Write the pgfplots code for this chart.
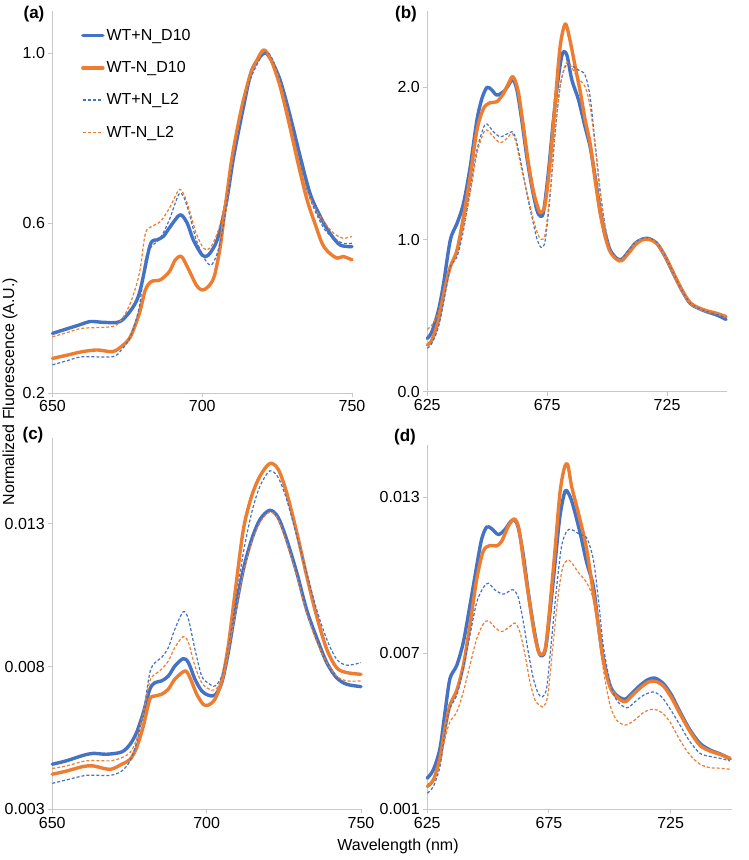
\documentclass[border=0pt]{standalone}
\usepackage{fontspec}
\setmainfont{Liberation Sans}
\usepackage{pgfplots}
\pgfplotsset{compat=1.18}
\definecolor{xblue}{HTML}{4472C4}
\definecolor{xorange}{HTML}{ED7D31}
\definecolor{axgray}{HTML}{C8C8C8}
\newcommand{\lblfont}{\fontsize{16bp}{19bp}\selectfont}
\pgfplotsset{
  myaxis/.style={
    scale only axis,
    axis lines*=left,
    axis line style={draw=axgray, line width=1.4bp},
    tick align=outside,
    major tick length=4bp,
    every tick/.style={draw=axgray, line width=1bp},
    tick label style={font=\lblfont},
    scaled ticks=false,
    clip=false,
  },
  bs/.style={color=xblue, line width=3.4bp, smooth, line join=round, line cap=round,
    legend image code/.code={\draw[xblue, line width=3.4bp] (0bp,0bp) -- (20bp,0bp);}},
  os/.style={color=xorange, line width=3.4bp, smooth, line join=round, line cap=round,
    legend image code/.code={\draw[xorange, line width=3.4bp] (0bp,0bp) -- (20bp,0bp);}},
  bd/.style={color=xblue, line width=1.2bp, dash pattern=on 3bp off 2bp, smooth,
    legend image code/.code={\draw[xblue, line width=1.3bp, dash pattern=on 3bp off 2bp] (0bp,0bp) -- (20bp,0bp);}},
  od/.style={color=xorange, line width=1.2bp, dash pattern=on 3bp off 2bp, smooth,
    legend image code/.code={\draw[xorange, line width=1.3bp, dash pattern=on 3bp off 2bp] (0bp,0bp) -- (20bp,0bp);}},
}
\begin{document}
\begin{tikzpicture}
\useasboundingbox (0,0) rectangle (749bp,-860bp);

% ---------------- (a)
\begin{axis}[myaxis,
  at={(52.5bp,-393.3bp)}, anchor=south west,
  width=299.5bp, height=382.5bp,
  xmin=650, xmax=750, ymin=0.2, ymax=1.1,
  xtick={650,700,750}, xticklabels={650,700,750},
  ytick={0.2,0.6,1.0}, yticklabels={0.2,0.6,1.0},
  legend style={at={(0.095,0.957)}, anchor=north west, draw=none, fill=none,
    font=\lblfont, inner sep=0pt, row sep=15.5bp, cells={anchor=west}},
]
\addplot[bs] coordinates {
(650,0.341)(659,0.361)(662.6,0.369)(667,0.367)(672.6,0.369)(677,0.404)(679.3,0.443)
(682.6,0.549)(684.9,0.561)(687,0.569)(689.3,0.592)(692.6,0.620)(695,0.600)(697,0.561)
(700,0.525)(702,0.525)(705,0.561)(708,0.647)(710.5,0.757)(713.8,0.875)(716.6,0.961)
(720.5,1.000)(722.7,0.988)(726,0.937)(729.4,0.851)(732.7,0.757)(736,0.670)(739.4,0.616)
(742.7,0.576)(746,0.549)(750,0.545)};
\addlegendentry{WT+N\textunderscore D10}
\addplot[os] coordinates {
(650,0.282)(655,0.290)(660,0.298)(665,0.302)(670,0.298)(673,0.310)(676,0.333)(679,0.388)
(681,0.443)(683,0.463)(686,0.467)(689,0.486)(691,0.514)(693,0.522)(695,0.498)(698,0.455)
(700,0.443)(702,0.451)(704,0.475)(706,0.545)(708,0.655)(710,0.757)(713,0.867)(716,0.949)
(718,0.980)(720.5,1.008)(723,0.984)(726,0.922)(729,0.835)(732,0.741)(735,0.655)(738,0.592)
(740,0.553)(742,0.533)(745,0.518)(747,0.522)(750,0.514)};
\addlegendentry{WT-N\textunderscore D10}
\addplot[bd] coordinates {
(650,0.267)(655,0.277)(660,0.286)(670,0.286)(673,0.302)(676,0.333)(679,0.404)(681,0.514)
(683,0.545)(686,0.565)(689,0.608)(692.5,0.671)(695,0.639)(698,0.561)(701,0.514)(703,0.502)
(705,0.529)(707,0.592)(710,0.733)(713,0.843)(716,0.937)(720.5,1.000)(723,0.992)(726,0.937)
(729,0.859)(732,0.765)(735,0.678)(738,0.624)(741,0.584)(744,0.565)(747,0.553)(750,0.553)};
\addlegendentry{WT+N\textunderscore L2}
\addplot[od] coordinates {
(650,0.333)(655,0.343)(660,0.353)(670,0.357)(673,0.373)(676,0.412)(679,0.482)(681,0.576)
(683,0.592)(686,0.604)(689,0.635)(692.5,0.680)(695,0.647)(698,0.576)(700.5,0.541)(702.5,0.541)
(705,0.576)(707,0.631)(710,0.749)(713,0.859)(716,0.945)(720.5,1.004)(723,0.988)(726,0.933)
(729,0.851)(732,0.757)(735,0.678)(738,0.631)(741,0.600)(744,0.576)(747,0.565)(750,0.569)};
\addlegendentry{WT-N\textunderscore L2}
\end{axis}

% ---------------- (b)
\begin{axis}[myaxis,
  at={(427.3bp,-391.7bp)}, anchor=south west,
  width=299.7bp, height=380.5bp,
  xmin=625, xmax=750, ymin=0, ymax=2.5,
  xtick={625,675,725}, xticklabels={625,675,725},
  ytick={0,1,2}, yticklabels={0.0,1.0,2.0},
]
\addplot[bs] coordinates {
(625,0.350)(626.9,0.394)(629.7,0.537)(631.8,0.712)(634.6,0.997)(637.4,1.106)(640.1,1.237)
(642.9,1.478)(645.7,1.785)(647.8,1.927)(649.9,2.000)(651.9,1.982)(654.0,1.949)(656.8,1.971)
(658.9,2.015)(660.6,2.052)(662.4,1.982)(664.4,1.785)(666.5,1.544)(668.6,1.347)(670.7,1.194)
(672.1,1.154)(673.5,1.183)(675.6,1.456)(677.6,1.785)(679.7,2.070)(681.4,2.223)(683.2,2.212)
(685.3,2.048)(688.1,1.916)(690.8,1.740)(692.9,1.610)(695.0,1.413)(697.1,1.194)(699.2,1.040)
(701.25,0.931)(704.0,0.876)(706.1,0.869)(708.9,0.920)(711.7,0.975)(714.4,1.001)(717.2,1.007)
(720.7,0.975)(724.2,0.887)(727.6,0.777)(731.1,0.668)(734.6,0.580)(738.1,0.548)(741.5,0.526)
(745.7,0.504)(749.6,0.475)};
\addplot[os] coordinates {
(625,0.307)(626.9,0.339)(629.7,0.471)(632.5,0.690)(634.6,0.821)(637.4,0.931)(640.1,1.150)
(642.9,1.413)(645.7,1.719)(648.5,1.862)(651.3,1.899)(654.0,1.905)(656.8,1.960)(658.9,2.026)
(660.7,2.070)(662.8,1.982)(665.1,1.741)(667.2,1.500)(669.3,1.314)(671.4,1.198)(672.5,1.176)
(674.2,1.237)(676.3,1.522)(678.3,1.894)(680.4,2.267)(682.5,2.416)(684.2,2.332)(686.7,2.135)
(688.8,1.970)(690.8,1.790)(692.9,1.632)(695.0,1.390)(697.1,1.172)(699.2,1.018)(701.25,0.920)
(704.0,0.869)(706.1,0.861)(708.9,0.909)(711.7,0.964)(714.4,0.996)(717.2,1.001)(720.7,0.975)
(724.2,0.891)(727.6,0.782)(731.1,0.672)(734.6,0.585)(738.1,0.552)(741.5,0.532)(745.7,0.515)
(749.6,0.493)};
\addplot[bd] coordinates {
(625,0.285)(626.9,0.318)(629.7,0.427)(632.5,0.646)(634.6,0.821)(637.4,0.887)(640.1,1.062)
(642.9,1.325)(645.7,1.588)(648.5,1.737)(649.9,1.759)(652.6,1.708)(655.4,1.675)(658.2,1.693)
(660.3,1.708)(661.9,1.664)(664.4,1.478)(666.5,1.303)(668.6,1.150)(670.7,1.007)(672.5,0.948)
(674.2,0.996)(676.3,1.303)(678.3,1.697)(680.4,2.004)(682.5,2.135)(684.6,2.146)(688.1,2.113)
(690.8,2.081)(692.9,1.938)(695.0,1.632)(697.1,1.325)(699.2,1.084)(701.25,0.942)(704.0,0.883)
(706.1,0.876)(708.9,0.925)(711.7,0.980)(714.4,1.006)(717.2,1.012)(720.7,0.980)(724.2,0.892)
(727.6,0.780)(731.1,0.670)(734.6,0.583)(738.1,0.550)(741.5,0.528)(745.7,0.508)(749.6,0.485)};
\addplot[od] coordinates {
(625,0.410)(626.9,0.438)(629.7,0.526)(632.5,0.712)(634.6,0.821)(637.4,0.931)(640.1,1.084)
(642.9,1.303)(645.7,1.566)(648.5,1.702)(649.9,1.719)(652.6,1.675)(655.4,1.636)(658.2,1.664)
(660.3,1.697)(661.9,1.643)(664.4,1.456)(666.5,1.314)(668.6,1.172)(670.7,1.051)(672.5,1.001)
(674.2,1.040)(676.3,1.325)(678.3,1.719)(680.4,2.004)(682.5,2.146)(684.2,2.157)(687.4,2.070)
(690.8,2.004)(692.9,1.873)(695.0,1.610)(697.1,1.303)(699.2,1.062)(701.25,0.931)(704.0,0.876)
(706.1,0.869)(708.9,0.922)(711.7,0.978)(714.4,1.004)(717.2,1.010)(720.7,0.978)(724.2,0.890)
(727.6,0.780)(731.1,0.672)(734.6,0.585)(738.1,0.555)(741.5,0.535)(745.7,0.518)(749.6,0.500)};
\end{axis}

% ---------------- (c)
\begin{axis}[myaxis,
  at={(52.3bp,-809.3bp)}, anchor=south west,
  width=308.7bp, height=371bp,
  xmin=650, xmax=750, ymin=0.003, ymax=0.016,
  xtick={650,700,750}, xticklabels={650,700,750},
  ytick={0.003,0.008,0.013}, yticklabels={0.003,0.008,0.013},
]
\addplot[bs] coordinates {
(650,0.00458)(654.6,0.00470)(660,0.00489)(663.3,0.00496)(667.6,0.00493)(672.5,0.00501)
(675.2,0.00528)(677.3,0.00569)(679.5,0.00639)(681.6,0.00721)(683.3,0.00744)(685.4,0.00750)
(687.6,0.00767)(689.7,0.00802)(692.4,0.00828)(694.1,0.00814)(696.2,0.00756)(698.4,0.00715)
(700.5,0.00700)(702.7,0.00700)(704.9,0.00744)(707.0,0.00849)(709.2,0.00989)(711.9,0.01141)
(714.6,0.01246)(717.3,0.01316)(720.5,0.01348)(723.2,0.01322)(725.9,0.01246)(729.2,0.01129)
(732.4,0.00999)(735.6,0.00902)(738.9,0.00814)(742.1,0.00761)(745.4,0.00738)(750,0.00730)};
\addplot[os] coordinates {
(650,0.00423)(654.6,0.00434)(660,0.00450)(663.3,0.00452)(668.7,0.00440)(672.5,0.00458)
(675.2,0.00475)(677.3,0.00516)(679.5,0.00592)(681.6,0.00686)(683.3,0.00697)(685.4,0.00703)
(687.6,0.00721)(689.7,0.00756)(693.0,0.00785)(694.6,0.00761)(696.8,0.00703)(698.9,0.00668)
(700.5,0.00665)(702.7,0.00686)(704.9,0.00750)(707.0,0.00872)(709.2,0.01059)(711.9,0.01281)
(714.6,0.01398)(717.3,0.01468)(720.5,0.01512)(723.2,0.01491)(725.9,0.01410)(729.2,0.01270)
(732.4,0.01118)(735.6,0.00978)(738.9,0.00861)(742.1,0.00796)(745.4,0.00779)(750,0.00773)};
\addplot[bd] coordinates {
(650,0.00391)(654.6,0.00403)(661.1,0.00419)(668.7,0.00419)(672.5,0.00434)(675.2,0.00470)
(677.3,0.00534)(679.5,0.00639)(681.6,0.00779)(683.3,0.00814)(685.4,0.00832)(687.6,0.00867)
(689.7,0.00931)(692.4,0.00992)(694.1,0.00966)(696.2,0.00861)(698.4,0.00767)(700.5,0.00742)
(702.7,0.00732)(704.9,0.00767)(707.0,0.00861)(709.2,0.01013)(711.9,0.01200)(714.6,0.01340)
(717.3,0.01433)(720.5,0.01486)(723.2,0.01462)(725.9,0.01386)(729.2,0.01258)(732.4,0.01129)
(735.6,0.01001)(738.9,0.00896)(742.1,0.00826)(745.4,0.00805)(750,0.00814)};
\addplot[od] coordinates {
(650,0.00443)(654.6,0.00452)(661.1,0.00470)(668.7,0.00470)(672.5,0.00481)(675.2,0.00499)
(677.3,0.00545)(679.5,0.00639)(681.6,0.00750)(683.3,0.00773)(685.4,0.00791)(687.6,0.00820)
(689.7,0.00867)(692.4,0.00905)(694.1,0.00884)(696.2,0.00802)(698.4,0.00744)(700.5,0.00723)
(702.7,0.00718)(704.9,0.00756)(707.0,0.00849)(709.2,0.00978)(711.9,0.01129)(714.6,0.01235)
(717.3,0.01305)(720.5,0.01342)(723.2,0.01316)(725.9,0.01235)(729.2,0.01118)(732.4,0.00989)
(735.6,0.00890)(738.9,0.00814)(742.1,0.00767)(745.4,0.00750)(750,0.00750)};
\end{axis}

% ---------------- (d)
\begin{axis}[myaxis,
  at={(427.3bp,-809.3bp)}, anchor=south west,
  width=304.2bp, height=364.3bp,
  xmin=625, xmax=750, ymin=0.001, ymax=0.015,
  xtick={625,675,725}, xticklabels={625,675,725},
  ytick={0.001,0.007,0.013}, yticklabels={0.001,0.007,0.013},
]
\addplot[bs] coordinates {
(625,0.00220)(627.5,0.00252)(630.2,0.00334)(632.3,0.00475)(634.3,0.00602)(637.1,0.00653)
(639.8,0.00742)(642.5,0.00882)(645.3,0.01035)(647.3,0.01137)(649.4,0.01185)(651.5,0.01178)
(654.2,0.01156)(656.9,0.01175)(659.0,0.01203)(660.8,0.01213)(662.4,0.01182)(664.5,0.01073)
(666.5,0.00933)(668.6,0.00806)(670.6,0.00710)(672.0,0.00689)(673.6,0.00717)(675.4,0.00857)
(677.5,0.01048)(679.5,0.01226)(681.6,0.01322)(683.3,0.01309)(685.0,0.01264)(687.8,0.01162)
(690.5,0.01048)(693.2,0.00959)(695.3,0.00806)(697.3,0.00678)(700.1,0.00576)(702.8,0.00538)
(706.2,0.00523)(709.0,0.00545)(712.4,0.00576)(715.8,0.00599)(718.6,0.00604)(722.0,0.00583)
(725.4,0.00538)(728.8,0.00475)(733.0,0.00404)(737.1,0.00353)(741.2,0.00328)(745.3,0.00313)
(749.4,0.00294)};
\addplot[os] coordinates {
(625,0.00188)(627.5,0.00213)(630.2,0.00296)(632.3,0.00411)(634.3,0.00500)(637.1,0.00557)
(639.8,0.00653)(642.5,0.00806)(645.3,0.00984)(648.0,0.01092)(650.8,0.01114)(653.5,0.01112)
(655.6,0.01131)(658.3,0.01188)(660.8,0.01216)(662.7,0.01175)(664.8,0.01035)(666.8,0.00908)
(668.9,0.00780)(670.6,0.00710)(672.0,0.00694)(673.6,0.00723)(675.4,0.00882)(677.5,0.01099)
(679.5,0.01315)(681.3,0.01411)(682.7,0.01424)(684.3,0.01341)(686.4,0.01264)(688.4,0.01188)
(690.5,0.01099)(693.2,0.00933)(695.3,0.00806)(697.3,0.00672)(700.1,0.00570)(702.8,0.00532)
(706.2,0.00513)(709.0,0.00536)(712.4,0.00566)(715.8,0.00589)(718.6,0.00592)(722.0,0.00574)
(725.4,0.00528)(728.8,0.00468)(733.0,0.00398)(737.1,0.00345)(741.2,0.00324)(745.3,0.00311)
(749.4,0.00296)};
\addplot[bd] coordinates {
(625,0.00162)(627.5,0.00188)(630.2,0.00264)(632.3,0.00398)(634.3,0.00487)(637.1,0.00538)
(639.8,0.00640)(642.5,0.00768)(645.3,0.00895)(648.0,0.00952)(650.1,0.00969)(652.8,0.00943)
(656.2,0.00927)(659.0,0.00940)(660.4,0.00943)(662.4,0.00914)(664.5,0.00818)(666.5,0.00704)
(668.6,0.00602)(670.6,0.00545)(672.3,0.00532)(674.1,0.00570)(676.1,0.00755)(678.2,0.00959)
(680.2,0.01112)(682.3,0.01169)(684.3,0.01175)(687.7,0.01156)(690.5,0.01143)(693.2,0.01061)
(695.3,0.00908)(697.3,0.00729)(700.1,0.00589)(702.8,0.00519)(706.9,0.00490)(710.3,0.00513)
(713.8,0.00538)(717.9,0.00551)(721.3,0.00532)(724.7,0.00487)(728.8,0.00424)(732.9,0.00360)
(737.1,0.00315)(741.2,0.00303)(745.3,0.00296)(749.4,0.00286)};
\addplot[od] coordinates {
(625,0.00194)(627.5,0.00220)(630.2,0.00283)(632.3,0.00373)(634.3,0.00436)(637.1,0.00474)
(639.8,0.00551)(642.5,0.00653)(645.3,0.00755)(648.0,0.00812)(650.1,0.00825)(652.8,0.00799)
(655.6,0.00783)(659.0,0.00803)(661.0,0.00816)(663.1,0.00780)(665.2,0.00691)(667.2,0.00589)
(669.3,0.00519)(671.3,0.00500)(672.7,0.00494)(674.5,0.00538)(676.5,0.00717)(678.6,0.00908)
(680.6,0.01029)(682.7,0.01058)(684.3,0.01048)(687.1,0.01010)(690.5,0.00971)(693.2,0.00908)
(695.3,0.00793)(697.3,0.00640)(700.1,0.00500)(702.8,0.00443)(706.2,0.00424)(709.7,0.00439)
(713.8,0.00472)(717.9,0.00485)(721.3,0.00472)(724.7,0.00436)(728.8,0.00366)(732.9,0.00309)
(737.1,0.00273)(741.2,0.00260)(745.3,0.00258)(749.4,0.00254)};
\end{axis}

% panel letters and shared labels
\node[font=\bfseries\fontsize{17bp}{20bp}\selectfont] at (34bp,-14bp) {(a)};
\node[font=\bfseries\fontsize{17bp}{20bp}\selectfont] at (406bp,-14bp) {(b)};
\node[font=\bfseries\fontsize{17bp}{20bp}\selectfont] at (33bp,-435bp) {(c)};
\node[font=\bfseries\fontsize{17bp}{20bp}\selectfont] at (405bp,-437bp) {(d)};
\node[font=\lblfont] at (398bp,-846bp) {Wavelength (nm)};
\node[font=\lblfont, rotate=90] at (10bp,-391.5bp) {Normalized Fluorescence (A.U.)};
\end{tikzpicture}
\end{document}
